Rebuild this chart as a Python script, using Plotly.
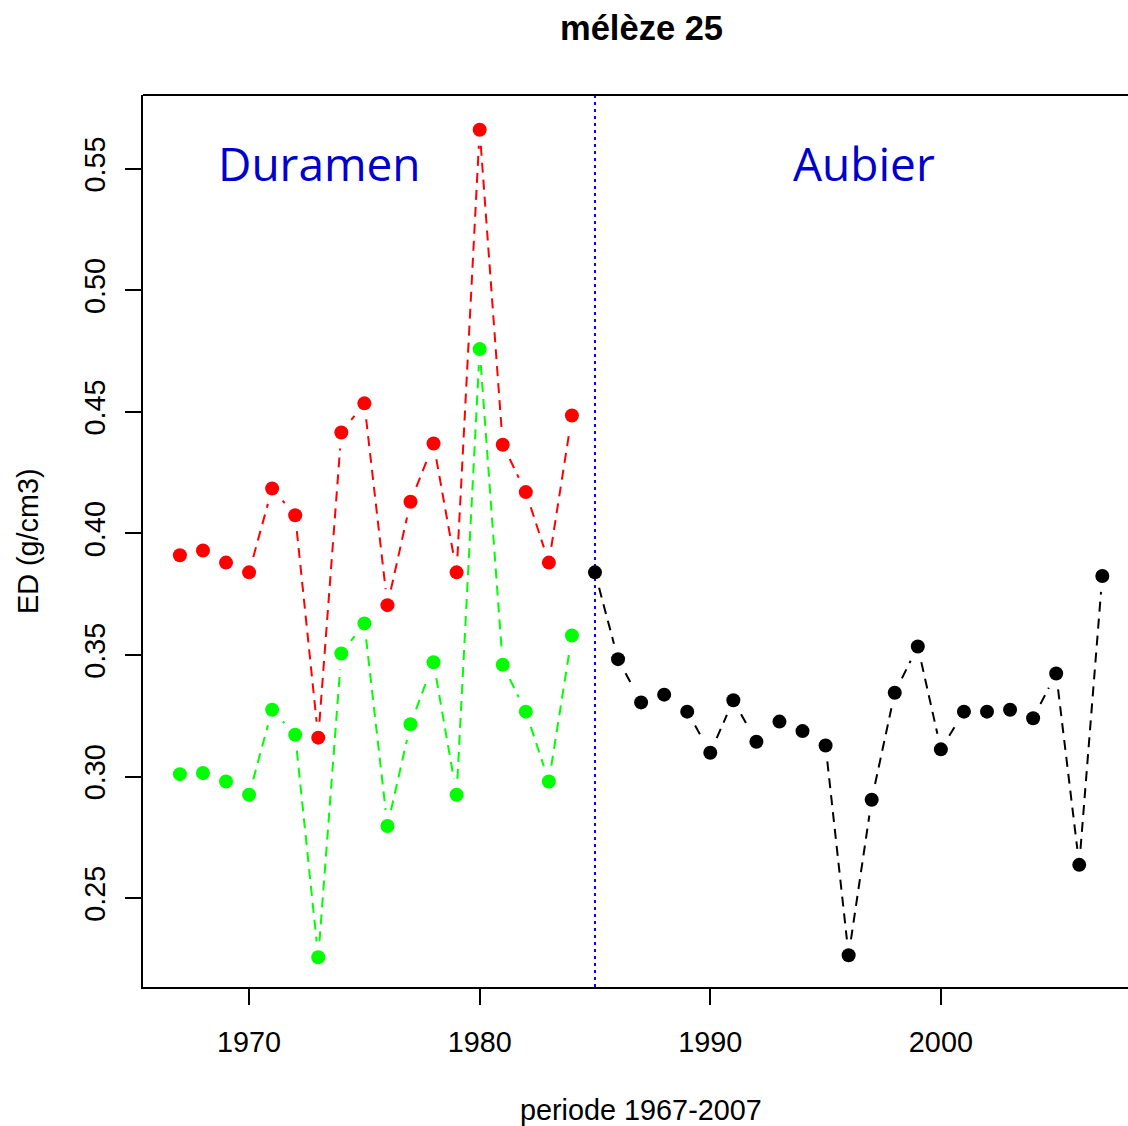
import math
import plotly.graph_objects as go

# ---- data ----
years_duramen = list(range(1967, 1985))
ed_red = [0.391, 0.393, 0.388, 0.384, 0.4185, 0.4075, 0.316, 0.4415, 0.4535, 0.3705,
          0.413, 0.437, 0.384, 0.566, 0.4365, 0.417, 0.388, 0.4485]
ed_green = [0.301, 0.3015, 0.298, 0.2925, 0.3275, 0.3172, 0.2257, 0.3506, 0.363, 0.2797,
            0.3215, 0.347, 0.2925, 0.4758, 0.346, 0.3267, 0.298, 0.358]
years_aubier = list(range(1985, 2008))
ed_black = [0.384, 0.3483, 0.3305, 0.3337, 0.3267, 0.3098, 0.3314, 0.3143, 0.3226, 0.3187,
            0.3128, 0.2265, 0.2905, 0.3345, 0.3535, 0.3112, 0.3267, 0.3267, 0.3275, 0.3240,
            0.3424, 0.2637, 0.3825]
x_ticks = [1970, 1980, 1990, 2000]
y_ticks = [0.25, 0.30, 0.35, 0.40, 0.45, 0.50, 0.55]
y_tick_text = ["0.25", "0.30", "0.35", "0.40", "0.45", "0.50", "0.55"]
boundary_year = 1985
title = "mélèze 25"
x_label = "periode 1967-2007"
y_label = "ED (g/cm3)"
zone_labels = ["Duramen", "Aubier"]
zone_label_x = [1973.05, 1996.65]
zone_label_y = 0.5525

# ---- layout constants ----
FONT = "Liberation Sans, Arial, sans-serif"
DASH = "10px,7px"
FIG_W, FIG_H = 1128, 1126
M_L, M_R, M_T, M_B = 143, 0, 95, 139
X_RANGE = [1965.4, 1965.4 + 985 / 23.06]
Y_RANGE = [0.21346, 0.58031]
PLOT_W = FIG_W - M_L - M_R
PLOT_H = FIG_H - M_T - M_B
GAP_PX = 16  # gap between a point and its connecting lines (R type="b")

sx = PLOT_W / (X_RANGE[1] - X_RANGE[0])
sy = PLOT_H / (Y_RANGE[1] - Y_RANGE[0])
X_MID = 1987.0  # centre of R's full plotting region (extends past the right edge)


def gapped_segments(xs, ys):
    """Segments between consecutive points, shortened near each point like R type='b'."""
    out_x, out_y = [], []
    for (x0, y0), (x1, y1) in zip(zip(xs, ys), zip(xs[1:], ys[1:])):
        dxp, dyp = (x1 - x0) * sx, (y1 - y0) * sy
        d = math.hypot(dxp, dyp)
        if d <= 2 * GAP_PX:
            continue
        f = GAP_PX / d
        out_x += [x0 + (x1 - x0) * f, x1 - (x1 - x0) * f, None]
        out_y += [y0 + (y1 - y0) * f, y1 - (y1 - y0) * f, None]
    return out_x, out_y


fig = go.Figure()


def add_series(x, y, color):
    lx, ly = gapped_segments(x, y)
    fig.add_trace(go.Scatter(
        x=lx, y=ly, mode="lines", line=dict(color=color, width=2, dash=DASH),
        showlegend=False, hoverinfo="skip"))
    fig.add_trace(go.Scatter(
        x=x, y=y, mode="markers",
        marker=dict(color=color, size=14, line=dict(width=0)),
        showlegend=False, hoverinfo="x+y"))


add_series(years_duramen, ed_red, "#FF0000")
add_series(years_duramen, ed_green, "#00FF00")
add_series(years_aubier, ed_black, "#000000")

# vertical boundary
fig.add_shape(type="line", xref="x", yref="paper", x0=boundary_year, x1=boundary_year,
              y0=0, y1=1, line=dict(color="#0000FF", width=2, dash="3px,4px"), layer="below")
# top frame line
fig.add_shape(type="line", xref="paper", yref="paper", x0=0, x1=1, y0=1, y1=1,
              line=dict(color="black", width=2))

for txt, xv in zip(zone_labels, zone_label_x):
    fig.add_annotation(x=xv, y=zone_label_y, xref="x", yref="y", text=txt, showarrow=False,
                       font=dict(family="Open Sans", size=46, color="#0000CD"),
                       xanchor="center", yanchor="middle")

fig.add_annotation(x=X_MID, y=1, xref="x", yref="paper",
                   text="<b>" + title + "</b>",
                   showarrow=False, font=dict(family=FONT, size=34.5, color="black"),
                   xanchor="center", yanchor="middle", yshift=67)
fig.add_annotation(x=X_MID, y=0, xref="x", yref="paper", text=x_label,
                   showarrow=False, font=dict(family=FONT, size=28.8, color="black"),
                   xanchor="center", yanchor="middle", yshift=-123)
fig.add_annotation(x=0, y=0.5, xref="paper", yref="paper", text=y_label, showarrow=False,
                   font=dict(family=FONT, size=28.8, color="black"), textangle=-90,
                   xanchor="center", yanchor="middle", xshift=-115)

fig.update_layout(
    width=FIG_W, height=FIG_H,
    margin=dict(l=M_L, r=M_R, t=M_T, b=M_B, pad=0),
    plot_bgcolor="white", paper_bgcolor="white",
    font=dict(family=FONT, size=28.8, color="black"),
    xaxis=dict(range=X_RANGE, showgrid=False, zeroline=False,
               showline=True, linecolor="black", linewidth=2,
               ticks="outside", ticklen=16, tickwidth=2, tickcolor="black",
               tickvals=x_ticks, ticklabelstandoff=12,
               tickfont=dict(family=FONT, size=28.8, color="black")),
    yaxis=dict(range=Y_RANGE, showgrid=False, zeroline=False,
               showline=True, linecolor="black", linewidth=2,
               ticks="outside", ticklen=16, tickwidth=2, tickcolor="black",
               tickvals=y_ticks, ticktext=y_tick_text, tickangle=-90, ticklabelstandoff=8,
               tickfont=dict(family=FONT, size=28.8, color="black")),
)

fig.write_html(
    "out.html",
    config={"displayModeBar": False},
    post_script="document.body.style.margin='0';document.body.style.overflow='hidden';",
)
